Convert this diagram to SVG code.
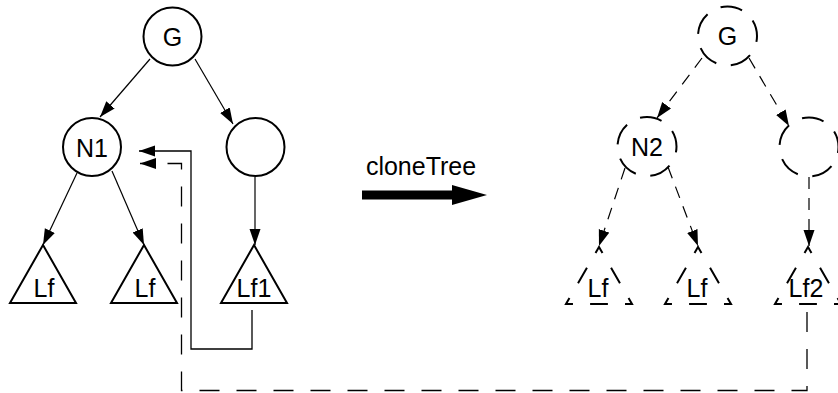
<svg xmlns="http://www.w3.org/2000/svg" width="838" height="393" viewBox="0 0 838 393">
<style>
  .node { fill: #fff; stroke: #000; stroke-width: 2; }
  .dnode { fill: none; stroke: #000; stroke-width: 2; stroke-dasharray: 12 8; stroke-dashoffset: 8.8; }
  .tri { fill: #fff; stroke: #000; stroke-width: 2; stroke-linejoin: miter; }
  .dtri { fill: none; stroke: #000; stroke-width: 2; stroke-linejoin: miter; stroke-dasharray: 21 26 27 26; stroke-dashoffset: 60.5; }
  .lbl { font-family: "Liberation Sans", Arial, sans-serif; font-size: 25px; text-anchor: middle; fill: #000; }
  .edge { fill: none; stroke: #000; stroke-width: 1.2; marker-end: url(#ah); }
  .dedge { fill: none; stroke: #000; stroke-width: 1.2; stroke-dasharray: 12 9; marker-end: url(#ah); }
  .link { fill: none; stroke: #000; stroke-width: 1.3; marker-end: url(#ah); }
  .dlink { fill: none; stroke: #000; stroke-width: 1.3; stroke-dasharray: 20 17; marker-end: url(#ah); }
</style>
<defs>
  <marker id="ah" markerWidth="17" markerHeight="12" refX="16" refY="5.5" orient="auto" markerUnits="userSpaceOnUse">
    <path d="M0,0 L16,5.5 L0,11 Z" fill="#000" stroke="none"/>
  </marker>
</defs>
<rect width="838" height="393" fill="#fff"/>

<g id="connectors">
  <!-- left tree -->
  <line class="edge" x1="150" y1="59" x2="100" y2="117"/>
  <line class="edge" x1="195" y1="59" x2="233" y2="124"/>
  <line class="edge" x1="77" y1="173" x2="43" y2="245"/>
  <line class="edge" x1="112" y1="171" x2="144" y2="245"/>
  <line class="edge" x1="255" y1="177" x2="255" y2="245"/>
  <!-- right tree -->
  <line class="dedge" x1="702" y1="58" x2="657" y2="118"/>
  <line class="dedge" x1="749" y1="58" x2="789" y2="126"/>
  <line class="dedge" x1="625" y1="168" x2="599" y2="246"/>
  <line class="dedge" x1="668" y1="167" x2="698" y2="246"/>
  <line class="dedge" x1="809" y1="177" x2="809" y2="246"/>
  <!-- links back to N1 -->
  <path class="link" d="M252,310 V349 H191 V151 H139"/>
  <path class="dlink" d="M807,312 V390.5 H181.5 V163.5 H140"/>
  <!-- cloneTree arrow -->
  <polygon points="362,190.5 452,190.5 452,185 487,195 452,205 452,199.5 362,199.5" fill="#000"/>
  <text class="lbl" x="421" y="175">cloneTree</text>
</g>

<g id="G">
  <circle class="node" cx="172.5" cy="36.5" r="29"/>
  <text class="lbl" x="172.5" y="45.5">G</text>
</g>
<g id="N1">
  <circle class="node" cx="92" cy="147" r="29"/>
  <text class="lbl" x="92" y="156.5">N1</text>
</g>
<g id="R1">
  <circle class="node" cx="255.5" cy="147" r="29"/>
</g>
<g id="Lf_a">
  <polygon class="tri" points="43,245 76,303 10,303"/>
  <text class="lbl" x="44" y="297">Lf</text>
</g>
<g id="Lf_b">
  <polygon class="tri" points="144,245 177,303 111,303"/>
  <text class="lbl" x="145" y="297">Lf</text>
</g>
<g id="Lf1">
  <polygon class="tri" points="254,245 287,303 221,303"/>
  <text class="lbl" x="254" y="297">Lf1</text>
</g>

<g id="G_clone">
  <circle class="dnode" cx="727.5" cy="36" r="29.5" pathLength="100"/>
  <text class="lbl" x="727.5" y="45">G</text>
</g>
<g id="N2">
  <circle class="dnode" cx="647" cy="146.5" r="29.5" pathLength="100"/>
  <text class="lbl" x="647" y="156">N2</text>
</g>
<g id="R2">
  <circle class="dnode" cx="809" cy="147" r="29.5" pathLength="100"/>
</g>
<g id="Lf_c">
  <path class="dtri" d="M599,304 H632 L599,247 L566,304 Z" pathLength="300"/>
  <text class="lbl" x="598" y="297">Lf</text>
</g>
<g id="Lf_d">
  <path class="dtri" d="M698,304 H731 L698,247 L665,304 Z" pathLength="300"/>
  <text class="lbl" x="697" y="297">Lf</text>
</g>
<g id="Lf2">
  <path class="dtri" d="M808,304 H841 L808,247 L775,304 Z" pathLength="300"/>
  <text class="lbl" x="806" y="297">Lf2</text>
</g>
</svg>
